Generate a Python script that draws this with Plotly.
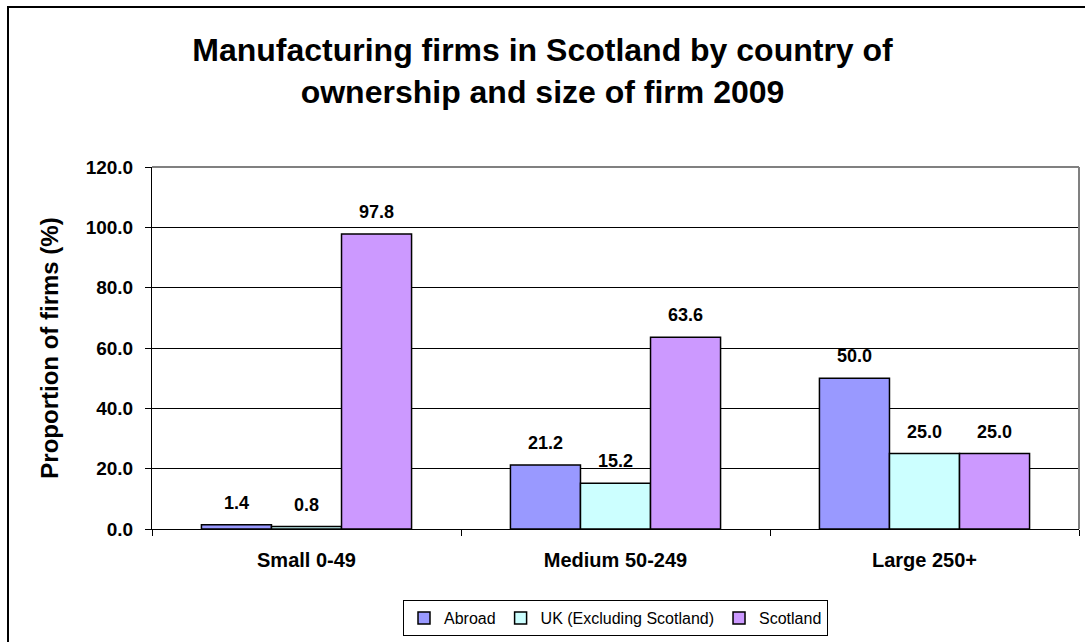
import plotly.graph_objects as go

# Firm size bands and ownership shares (% of firms)
categories = ["Small 0-49", "Medium 50-249", "Large 250+"]
abroad = [1.4, 21.2, 50.0]
uk_excl_scotland = [0.8, 15.2, 25.0]
scotland = [97.8, 63.6, 25.0]

series = [
    ("Abroad", abroad, "#9999FF"),
    ("UK (Excluding Scotland)", uk_excl_scotland, "#CCFFFF"),
    ("Scotland", scotland, "#CC99FF"),
]

W, H = 1085, 642
L, R, T, B = 152, 6, 167, 113
plot_w = W - L - R
plot_h = H - T - B

FONT = "Liberation Sans, Arial, sans-serif"

fig = go.Figure()
for name, vals, color in series:
    fig.add_trace(go.Bar(
        name=name,
        x=categories,
        y=vals,
        marker=dict(color=color, line=dict(color="#000000", width=1.5)),
        offsetgroup=name,
    ))

# Value labels above every bar
bar_frac = (1 - 0.32) / 3
annotations = []
for i, (name, vals, color) in enumerate(series):
    for j, v in enumerate(vals):
        annotations.append(dict(
            x=j + (i - 1) * bar_frac, y=v, xref="x", yref="y",
            text=f"<b>{v:.1f}</b>", showarrow=False,
            yshift=22, yanchor="middle", xanchor="center",
            font=dict(family=FONT, size=18, color="#000000"),
        ))

px2x = lambda px: (px - L) / plot_w
px2y = lambda py: (H - B - py) / plot_h

shapes = [
    # chart frame
    dict(type="rect", xref="paper", yref="paper",
         x0=px2x(8), x1=px2x(W + 20), y0=px2y(H + 20), y1=px2y(7),
         line=dict(color="#000000", width=2), fillcolor="rgba(0,0,0,0)", layer="below"),
    # plot-area border, top and right
    dict(type="line", xref="paper", yref="paper", x0=0, x1=1, y0=1, y1=1,
         line=dict(color="#808080", width=2)),
    dict(type="line", xref="paper", yref="paper", x0=1, x1=1, y0=0, y1=1,
         line=dict(color="#808080", width=2)),
]

fig.update_layout(
    width=W, height=H,
    margin=dict(l=L, r=R, t=T, b=B, autoexpand=False),
    paper_bgcolor="#FFFFFF", plot_bgcolor="#FFFFFF",
    font=dict(family=FONT, color="#000000"),
    barmode="group", bargap=0.32, bargroupgap=0,
    title=dict(
        text="<b>Manufacturing firms in Scotland by country of<br>ownership and size of firm 2009</b>",
        x=0.5, xref="container", xanchor="center",
        y=1 - 61 / H, yref="container", yanchor="top",
        font=dict(family=FONT, size=32, color="#000000"),
    ),
    xaxis=dict(
        type="category", tickson="boundaries",
        ticks="outside", ticklen=6, tickcolor="#000000", tickwidth=1,
        showline=True, linecolor="#000000", linewidth=1,
        showgrid=False, ticklabelstandoff=13,
        tickfont=dict(family=FONT, size=20, color="#000000", weight="bold"),
    ),
    yaxis=dict(
        range=[0, 120], dtick=20, tickformat=".1f",
        ticks="outside", ticklen=6, tickcolor="#000000", tickwidth=1,
        showline=True, linecolor="#000000", linewidth=1,
        showgrid=True, gridcolor="#000000", gridwidth=1,
        zeroline=False, ticklabelstandoff=8,
        tickfont=dict(family=FONT, size=19, color="#000000", weight="bold"),
        title=dict(text="<b>Proportion of firms (%)</b>", standoff=20,
                   font=dict(family=FONT, size=24, color="#000000")),
    ),
    legend=dict(
        orientation="h", x=0.5, xanchor="center", y=px2y(600), yanchor="top",
        bordercolor="#000000", borderwidth=1, bgcolor="#FFFFFF",
        font=dict(family=FONT, size=16, color="#000000"),
        itemwidth=30, tracegroupgap=0,
    ),
    annotations=annotations,
    shapes=shapes,
    showlegend=True,
)

fig.write_html("out.html")
